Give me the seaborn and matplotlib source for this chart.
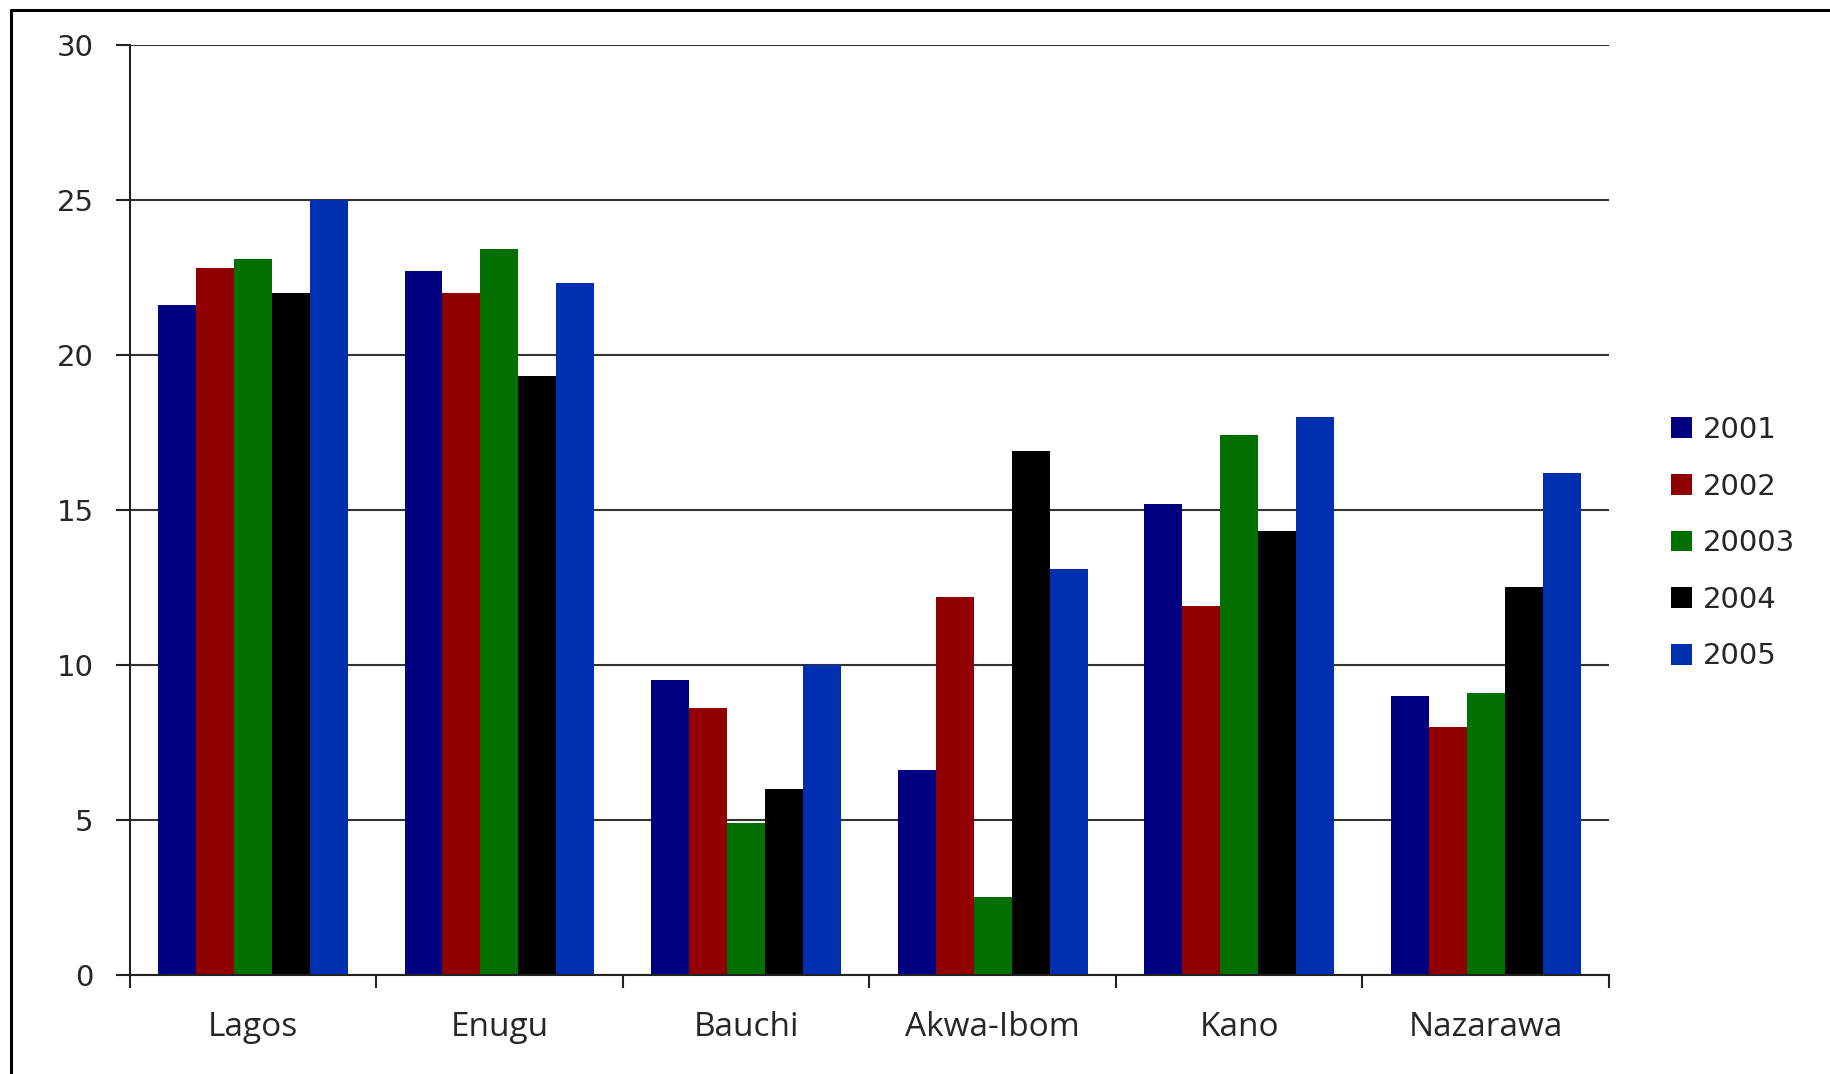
import matplotlib
matplotlib.use("Agg")
import matplotlib.pyplot as plt
from matplotlib.lines import Line2D
import seaborn as sns
import pandas as pd

states = ["Lagos", "Enugu", "Bauchi", "Akwa-Ibom", "Kano", "Nazarawa"]
years = ["2001", "2002", "20003", "2004", "2005"]
v2001 = [21.6, 22.7, 9.5, 6.6, 15.2, 9.0]
v2002 = [22.8, 22.0, 8.6, 12.2, 11.9, 8.0]
v2003 = [23.1, 23.4, 4.9, 2.5, 17.4, 9.1]
v2004 = [22.0, 19.3, 6.0, 16.9, 14.3, 12.5]
v2005 = [25.0, 22.3, 10.0, 13.1, 18.0, 16.2]
colors = ["#000080", "#900000", "#007000", "#000000", "#0030B0"]

series = [v2001, v2002, v2003, v2004, v2005]
rows = []
for y, vals in zip(years, series):
    for s, v in zip(states, vals):
        rows.append({"state": s, "year": y, "value": v})
df = pd.DataFrame(rows)

sns.set_style("white")
plt.rcParams["font.family"] = ["DejaVu Sans"]

W, H = 1831, 1074
fig = plt.figure(figsize=(W / 100, H / 100), dpi=100)
ax = fig.add_axes([129.6 / W, 1 - 975 / H, (1609 - 129.6) / W, (975 - 44.5) / H])

sns.barplot(data=df, x="state", y="value", hue="year", order=states,
            hue_order=years, palette=colors, saturation=1, width=0.77,
            errorbar=None, ax=ax, edgecolor="none", linewidth=0)

ax.set_xlim(-0.5, len(states) - 0.5)
ax.set_ylim(0, 30)
ax.set_yticks([0, 5, 10, 15, 20, 25, 30])
ax.set_xlabel("")
ax.set_ylabel("")
ax.yaxis.grid(True, color="#333333", linewidth=1.5)
ax.set_axisbelow(True)
for side in ["top", "right"]:
    ax.spines[side].set_visible(False)
for side in ["left", "bottom"]:
    ax.spines[side].set_color("#222222")
    ax.spines[side].set_linewidth(1.5)

ax.tick_params(axis="y", direction="out", length=10, width=1.5, color="#222222",
               pad=16, labelsize=21, left=True)
ax.set_xticks(range(len(states)))
ax.set_xticklabels(states, fontsize=24, fontfamily="Open Sans")
ax.tick_params(axis="x", which="major", length=0, pad=26)
ax.set_xticks([i - 0.5 for i in range(len(states) + 1)], minor=True)
ax.tick_params(axis="x", which="minor", direction="out", length=9, width=1.5,
               color="#222222", bottom=True)

handles, labels = ax.get_legend_handles_labels()
ax.legend(handles, labels, loc="upper left",
          bbox_to_anchor=(1671 / W, 1 - 416 / H), bbox_transform=fig.transFigure,
          frameon=False, fontsize=21, borderpad=0, borderaxespad=0,
          handlelength=0.72, handleheight=0.72, handletextpad=0.36,
          labelspacing=0.98)

fig.add_artist(Line2D([11 / W, 11 / W], [0, 1 - 10 / H], color="black",
                      linewidth=2.2, transform=fig.transFigure))
fig.add_artist(Line2D([11 / W, 1], [1 - 10 / H, 1 - 10 / H], color="black",
                      linewidth=2.2, transform=fig.transFigure))

fig.savefig("out.png", dpi=100)
